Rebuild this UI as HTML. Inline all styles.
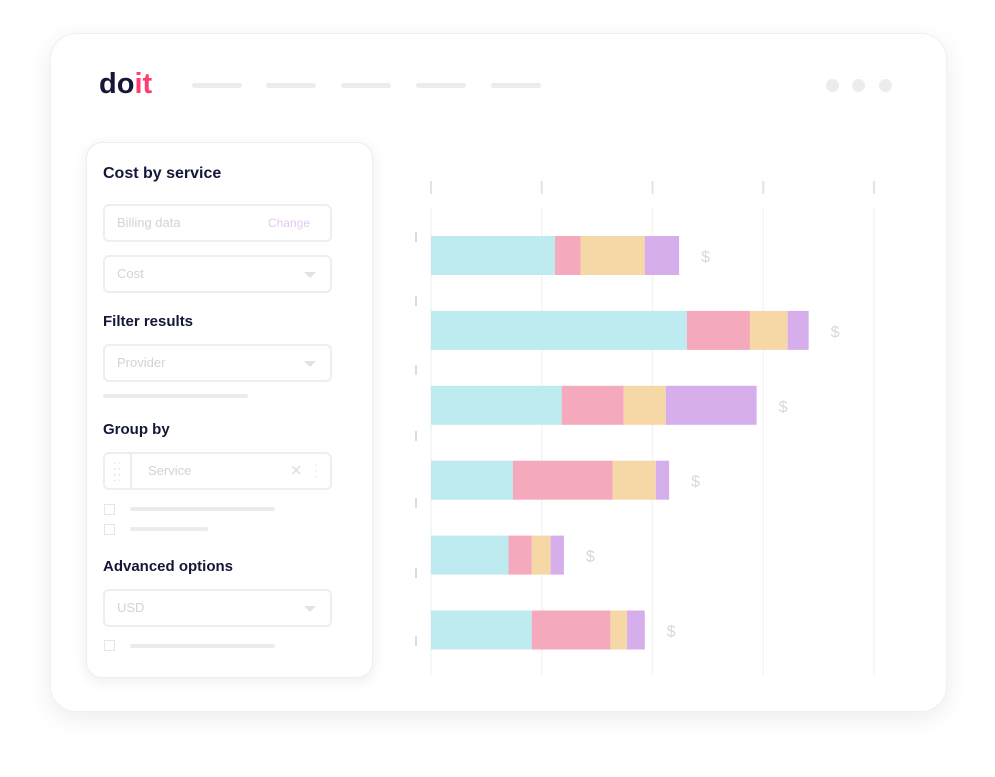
<!DOCTYPE html>
<html><head><meta charset="utf-8"><style>
body{margin:0;width:995px;height:777px;background:#fff;font-family:"Liberation Sans",sans-serif;position:relative;overflow:hidden}
.abs{position:absolute}
.card{left:50px;top:33px;width:895px;height:677px;border-radius:26px;background:#fff;box-shadow:0 6px 24px rgba(0,0,0,0.08);border:1px solid #f0f0f3}
.nav{height:5px;border-radius:3px;background:#ececee;width:50px;top:83px}
.dot{width:13px;height:13px;border-radius:50%;background:#ececee;top:79px}
.panel{left:86px;top:142px;width:285px;height:534px;border-radius:16px;background:#fff;box-shadow:0 3px 14px rgba(0,0,0,0.08);border:1px solid #eeeef0}
.h{left:103px;font-size:16px;color:#141738;font-weight:600}
.field{left:103px;width:225px;height:34px;border:2px solid #eeeef1;border-radius:6px;box-sizing:content-box}
.ph{font-size:13px;color:#d2d2d8;position:absolute;left:12px;top:9px}
.tri{position:absolute;right:14px;top:15px;border-left:6px solid transparent;border-right:6px solid transparent;border-top:6px solid #e2e2e6}
.line{height:4px;border-radius:2px;background:#ececee}
.cb{width:9px;height:9px;border:1.5px solid #e6e6ea;left:104px}
</style></head><body>
<div class="abs card"></div>
<div class="abs" style="left:99px;top:68px;font-size:29px;font-weight:bold;letter-spacing:0px"><span style="color:#141738">do</span><span style="color:#ff3d6e">it</span></div>
<div class="abs nav" style="left:192px"></div>
<div class="abs nav" style="left:266px"></div>
<div class="abs nav" style="left:341px"></div>
<div class="abs nav" style="left:416px"></div>
<div class="abs nav" style="left:491px"></div>
<div class="abs dot" style="left:826px"></div>
<div class="abs dot" style="left:852px"></div>
<div class="abs dot" style="left:879px"></div>

<div class="abs panel"></div>
<div class="abs h" style="top:165px">Cost by service</div>
<div class="abs field" style="top:204px"><span class="ph">Billing data</span><span class="ph" style="left:auto;right:20px;font-size:12px;color:#e3c8f2;top:10px">Change</span></div>
<div class="abs field" style="top:255px"><span class="ph">Cost</span><span class="tri"></span></div>
<div class="abs h" style="top:313px;font-size:15px">Filter results</div>
<div class="abs field" style="top:344px"><span class="ph">Provider</span><span class="tri"></span></div>
<div class="abs line" style="left:103px;top:394px;width:145px"></div>
<div class="abs h" style="top:421px;font-size:15px">Group by</div>
<div class="abs field" style="top:452px"><span style="position:absolute;left:25px;top:0;width:2px;height:34px;background:#eeeef1"></span><span style="position:absolute;left:8px;top:8px;color:#e2e2e6;font-size:12px;line-height:6px;letter-spacing:1px">::<br>::<br>::</span><span class="ph" style="left:43px">Service</span><span style="position:absolute;right:28px;top:6px;color:#dedee3;font-size:20px">×</span><span style="position:absolute;right:12px;top:7px;color:#dedee3;font-size:12px;line-height:6px">·<br>·<br>·</span></div>
<div class="abs cb" style="top:504px"></div>
<div class="abs line" style="left:130px;top:507px;width:145px"></div>
<div class="abs cb" style="top:524px"></div>
<div class="abs line" style="left:130px;top:527px;width:78px"></div>
<div class="abs h" style="top:558px;font-size:15px">Advanced options</div>
<div class="abs field" style="top:589px"><span class="ph">USD</span><span class="tri"></span></div>
<div class="abs cb" style="top:640px"></div>
<div class="abs line" style="left:130px;top:644px;width:145px"></div>

<svg class="abs" style="left:0;top:0" width="995" height="777" id="chart"></svg>
<script>
const rows=['r1','r2','r3','r4','r5','r6'];
const compute=[112,231,118,74,70,91];
const storage=[23,57,56,90,21,71];
const network=[58,34,38,39,17,15];
const other=[31,19,82,12,12,16];
const ticks=[0,100,200,300,400];
const colors=['#bdebf0','#f4a9bd','#f5d8a6','#d6aeeb'];
const series=[compute,storage,network,other];
const NS='http://www.w3.org/2000/svg';
const svg=document.getElementById('chart');
const x=v=>431+v*(443/400);
const rowY=i=>236+i*74.9;
const leftTicks=[237,301,370,436,503,573,641];
function mk(t,a){const e=document.createElementNS(NS,t);for(const k in a)e.setAttribute(k,a[k]);svg.appendChild(e);return e;}
ticks.forEach(t=>{
  let g=mk('line',{x1:x(t),x2:x(t),y1:208,y2:675,stroke:'#f4f4f6','stroke-width':1.5});
  
  
  let k=mk('line',{x1:x(t),x2:x(t),y1:181,y2:194,stroke:'#e4e4e8','stroke-width':2});
  
  
});
leftTicks.forEach(y=>{
  let k=mk('line',{x1:416,x2:416,y1:y-5,y2:y+5,stroke:'#dcdce0','stroke-width':2});
  
  
});
rows.forEach((r,i)=>{
  let acc=0;
  series.forEach((s,j)=>{
    const b=mk('rect',{x:x(acc),y:rowY(i),width:x(acc+s[i])-x(acc),height:39,fill:colors[j]});
    
    
    acc+=s[i];
  });
  const t=mk('text',{x:x(acc)+22,y:rowY(i)+26,fill:'#d8d8dd','font-size':16,'font-family':'Liberation Sans'});
  t.textContent='$';
  
  
});
</script>
</body></html>
